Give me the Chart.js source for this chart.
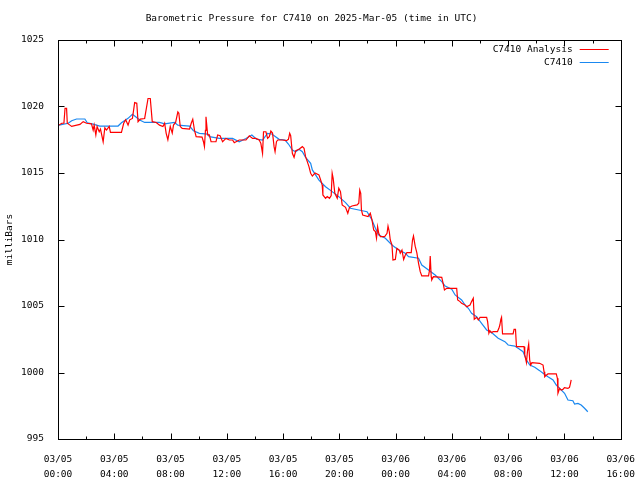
<!DOCTYPE html>
<html>
<head>
<meta charset="utf-8">
<title>Barometric Pressure for C7410</title>
<script src="https://cdn.jsdelivr.net/npm/chart.js@4.4.1/dist/chart.umd.min.js"></script>
<style>
  html, body { margin: 0; padding: 0; background: #ffffff; }
  canvas { display: block; }
</style>
</head>
<body>
<canvas id="pressure_chart" width="640" height="480"></canvas>
<script>
// hours since 03/05 00:00 UTC
const xTickHours = [0, 4, 8, 12, 16, 20, 24, 28, 32, 36, 40];
const xTickDates = ['03/05', '03/05', '03/05', '03/05', '03/05', '03/05', '03/06', '03/06', '03/06', '03/06', '03/06'];
const xTickTimes = ['00:00', '04:00', '08:00', '12:00', '16:00', '20:00', '00:00', '04:00', '08:00', '12:00', '16:00'];

const analysisHours = [0.07, 0.26, 0.42, 0.5, 0.61, 0.66, 0.85, 0.97, 1.56, 1.79, 2.03, 2.38, 2.5, 2.57, 2.69, 2.78, 2.93, 3.02, 3.21, 3.33,
  3.45, 3.64, 3.73, 4.51, 4.67, 4.81, 4.98, 5.1, 5.29, 5.45, 5.6, 5.69, 5.85, 6.16, 6.4, 6.56, 6.7, 6.98, 7.22, 7.46,
  7.58, 7.69, 7.81, 7.98, 8.12, 8.21, 8.36, 8.52, 8.59, 8.69, 8.83, 9.35, 9.47, 9.58, 9.7, 9.82, 10.24, 10.34, 10.41, 10.48,
  10.52, 10.64, 10.76, 10.88, 11.23, 11.35, 11.52, 11.7, 11.94, 12.18, 12.41, 12.53, 12.88, 13.36, 13.6, 13.83, 14.07, 14.3, 14.42, 14.54,
  14.61, 14.78, 14.9, 15.02, 15.13, 15.25, 15.36, 15.43, 15.53, 15.62, 15.95, 16.24, 16.38, 16.47, 16.54, 16.66, 16.78, 16.9, 17.13, 17.37,
  17.49, 17.6, 17.84, 17.96, 18.08, 18.27, 18.55, 18.67, 18.78, 18.83, 19.02, 19.14, 19.3, 19.42, 19.49, 19.56, 19.68, 19.85, 19.96, 20.08,
  20.2, 20.44, 20.6, 20.72, 20.9, 21.26, 21.38, 21.45, 21.52, 21.57, 21.66, 22.04, 22.2, 22.32, 22.44, 22.56, 22.64, 22.72, 22.8, 22.92,
  23.22, 23.39, 23.46, 23.55, 23.62, 23.74, 23.81, 23.98, 24.09, 24.26, 24.33, 24.45, 24.57, 24.69, 24.8, 25.11, 25.2, 25.27, 25.39, 25.51,
  25.63, 25.75, 25.86, 26.34, 26.41, 26.46, 26.53, 26.57, 26.69, 27.28, 27.4, 27.47, 27.63, 28.34, 28.41, 28.58, 28.69, 28.93, 29.05, 29.29,
  29.4, 29.52, 29.59, 29.76, 29.88, 30.0, 30.47, 30.54, 30.63, 30.7, 30.82, 30.94, 31.24, 31.34, 31.41, 31.48, 31.53, 31.6, 32.35, 32.42,
  32.52, 32.59, 33.13, 33.18, 33.3, 33.37, 33.46, 33.53, 33.6, 33.69, 34.24, 34.48, 34.55, 34.6, 34.71, 34.83, 35.42, 35.5, 35.54, 35.66,
  35.77, 35.89, 36.0, 36.25, 36.36, 36.43, 36.48];
const analysisValues = [1018.6, 1018.74, 1018.74, 1019.86, 1019.86, 1018.74, 1018.6, 1018.5, 1018.65, 1018.86, 1018.74, 1018.7, 1018.23, 1018.6, 1017.86, 1018.5, 1018.1, 1018.3, 1017.35, 1018.4,
  1018.23, 1018.5, 1018.06, 1018.06, 1018.74, 1019.0, 1018.6, 1019.0, 1019.1, 1020.29, 1020.24, 1018.86, 1019.05, 1019.1, 1020.6, 1020.6, 1018.86, 1018.8, 1018.6, 1018.5,
  1018.74, 1017.98, 1017.5, 1018.5, 1018.0, 1018.6, 1018.8, 1019.6, 1019.5, 1018.5, 1018.36, 1018.3, 1018.74, 1019.04, 1018.23, 1017.73, 1017.7, 1017.35, 1016.98, 1018.2,
  1019.23, 1017.86, 1017.86, 1017.35, 1017.35, 1017.86, 1017.8, 1017.35, 1017.6, 1017.48, 1017.48, 1017.28, 1017.48, 1017.48, 1017.8, 1017.6, 1017.6, 1017.48, 1017.23, 1016.48,
  1018.1, 1018.1, 1017.6, 1017.73, 1018.16, 1018.0, 1016.98, 1016.6, 1017.35, 1017.48, 1017.48, 1017.43, 1017.53, 1017.98, 1017.8, 1016.48, 1016.18, 1016.68, 1016.78, 1016.98,
  1016.86, 1016.23, 1015.48, 1014.98, 1014.77, 1015.0, 1014.86, 1014.47, 1014.1, 1013.35, 1013.1, 1013.23, 1013.1, 1013.3, 1014.98, 1014.6, 1013.47, 1013.1, 1013.85, 1013.6,
  1012.6, 1012.42, 1011.97, 1012.42, 1012.52, 1012.6, 1012.73, 1013.72, 1013.47, 1012.23, 1011.84, 1011.72, 1011.97, 1011.47, 1010.72, 1010.6, 1010.1, 1010.96, 1010.46, 1010.21,
  1010.21, 1010.46, 1011.0, 1010.58, 1009.96, 1009.59, 1008.46, 1008.5, 1009.34, 1009.2, 1008.97, 1009.2, 1008.5, 1008.84, 1009.01, 1009.01, 1009.96, 1010.26, 1009.5, 1009.0,
  1008.21, 1007.58, 1007.26, 1007.26, 1007.7, 1008.76, 1007.2, 1006.96, 1007.2, 1007.15, 1006.58, 1006.2, 1006.33, 1006.33, 1005.45, 1005.33, 1005.2, 1005.08, 1004.95, 1005.08,
  1005.33, 1005.58, 1004.0, 1004.15, 1003.95, 1004.15, 1004.15, 1003.82, 1002.95, 1003.15, 1003.0, 1003.08, 1003.08, 1003.32, 1003.57, 1004.0, 1004.15, 1002.9, 1002.9, 1003.25,
  1003.25, 1001.94, 1001.94, 1001.32, 1000.74, 1001.57, 1002.14, 1000.94, 1000.56, 1000.74, 1000.69, 1000.56, 1000.06, 999.68, 999.8, 999.89, 999.89, 999.56, 998.44, 998.81,
  998.68, 998.73, 998.86, 998.81, 998.88, 999.19, 999.44];

const stationHours = [0.07, 0.73, 0.97, 1.32, 1.91, 2.08, 2.5, 2.97, 4.27, 4.51, 4.98, 5.29, 5.52, 5.81, 6.16, 7.22, 7.58, 8.28, 8.52, 9.35,
  9.63, 10.05, 10.64, 10.76, 11.47, 12.41, 12.88, 13.36, 13.78, 14.11, 14.54, 14.89, 15.2, 15.72, 16.14, 16.38, 16.66, 16.9, 17.13, 17.37,
  17.6, 17.96, 18.08, 18.55, 19.02, 19.49, 19.96, 20.44, 20.79, 21.38, 21.97, 22.32, 22.56, 22.8, 23.27, 23.74, 24.21, 24.69, 24.92, 25.63,
  25.86, 26.34, 26.81, 27.28, 27.52, 27.99, 28.23, 28.69, 28.93, 29.17, 29.4, 29.76, 30.11, 30.47, 30.82, 31.29, 31.77, 32.0, 32.47, 32.71,
  33.06, 33.3, 33.54, 33.89, 34.24, 34.48, 34.83, 35.19, 35.42, 35.66, 36.01, 36.25, 36.6, 36.72, 36.96, 37.19, 37.43, 37.66];
const stationValues = [1018.6, 1018.74, 1018.93, 1019.06, 1019.06, 1018.78, 1018.68, 1018.53, 1018.53, 1018.78, 1019.11, 1019.41, 1019.23, 1018.98, 1018.8, 1018.8, 1018.7, 1018.8, 1018.6, 1018.53,
  1018.18, 1017.98, 1017.92, 1017.73, 1017.6, 1017.6, 1017.35, 1017.6, 1017.86, 1017.55, 1017.48, 1017.98, 1017.93, 1017.53, 1017.48, 1017.18, 1016.73, 1016.6, 1016.78, 1016.6,
  1016.18, 1015.73, 1015.23, 1014.47, 1013.97, 1013.6, 1013.22, 1012.77, 1012.35, 1012.22, 1012.09, 1011.47, 1010.84, 1010.34, 1010.09, 1009.59, 1009.21, 1008.96, 1008.71, 1008.59,
  1008.08, 1007.71, 1007.33, 1006.83, 1006.5, 1006.26, 1005.83, 1005.45, 1005.08, 1004.83, 1004.45, 1004.2, 1003.7, 1003.2, 1003.0, 1002.57, 1002.32, 1002.07, 1001.99, 1001.82,
  1001.56, 1000.94, 1000.56, 1000.39, 1000.14, 999.94, 999.68, 999.44, 999.06, 998.81, 998.44, 997.93, 997.88, 997.63, 997.68, 997.56, 997.31, 997.05];

const MONO = '"DejaVu Sans Mono", "Liberation Mono", monospace';
const FONT_SIZE = 9.5;

// border, inward tics (mirrored) and the key, gnuplot style
const gnuplotFrame = {
  id: 'gnuplotFrame',
  afterDatasetsDraw(chart) {
    const ctx = chart.ctx;
    const area = chart.chartArea;
    const xs = chart.scales.x;
    const ys = chart.scales.y;
    const l = Math.round(area.left) + 0.5, r = Math.round(area.right) + 0.5;
    const t = Math.round(area.top) + 0.5, b = Math.round(area.bottom) + 0.5;

    ctx.save();
    ctx.strokeStyle = '#000000';
    ctx.lineWidth = 1;
    ctx.beginPath();
    xs.ticks.forEach(tk => {
      const px = Math.round(xs.getPixelForValue(tk.value)) + 0.5;
      const len = xTickHours.includes(tk.value) ? 6 : 3;
      ctx.moveTo(px, b); ctx.lineTo(px, b - len);
      ctx.moveTo(px, t); ctx.lineTo(px, t + len);
    });
    ys.ticks.forEach(tk => {
      const py = Math.round(ys.getPixelForValue(tk.value)) + 0.5;
      ctx.moveTo(l, py); ctx.lineTo(l + 6, py);
      ctx.moveTo(r, py); ctx.lineTo(r - 6, py);
    });
    ctx.stroke();
    ctx.strokeRect(l, t, r - l, b - t);

    // key
    ctx.font = FONT_SIZE + 'px ' + MONO;
    ctx.textAlign = 'right';
    ctx.textBaseline = 'middle';
    chart.data.datasets.forEach((ds, i) => {
      const y = Math.round(area.top) + 10 + i * 13;
      ctx.fillStyle = '#000000';
      ctx.fillText(ds.label, area.right - 48, y);
      ctx.strokeStyle = ds.borderColor;
      ctx.beginPath();
      ctx.moveTo(area.right - 41, y - 0.5);
      ctx.lineTo(area.right - 12, y - 0.5);
      ctx.stroke();
    });
    ctx.restore();
  }
};

const pressureChart = new Chart(document.getElementById('pressure_chart'), {
  type: 'line',
  data: {
    datasets: [
      {
        label: 'C7410 Analysis',
        data: analysisHours.map((h, i) => ({ x: h, y: analysisValues[i] })),
        borderColor: '#ff0000',
        borderWidth: 1.2,
        pointRadius: 0,
        tension: 0
      },
      {
        label: 'C7410',
        data: stationHours.map((h, i) => ({ x: h, y: stationValues[i] })),
        borderColor: '#1a88f0',
        borderWidth: 1.2,
        pointRadius: 0,
        tension: 0
      }
    ]
  },
  options: {
    responsive: false,
    animation: false,
    layout: { padding: { left: 0, right: 17, top: 0, bottom: 0 } },
    plugins: {
      legend: { display: false },
      tooltip: { enabled: false },
      title: {
        display: true,
        text: 'Barometric Pressure for C7410 on 2025-Mar-05 (time in UTC)',
        color: '#000000',
        font: { family: MONO, size: FONT_SIZE, weight: 'normal', lineHeight: '12px' },
        padding: { top: 13, bottom: 15 }
      }
    },
    scales: {
      x: {
        type: 'linear',
        min: 0,
        max: 40,
        grid: { display: false },
        border: { display: false },
        afterFit: (scale) => { scale.height = 41; },
        ticks: {
          stepSize: 2,
          autoSkip: false,
          maxRotation: 0,
          padding: 5,
          color: '#000000',
          font: { family: MONO, size: FONT_SIZE, lineHeight: '15px' },
          callback: (value) => {
            const i = xTickHours.indexOf(value);
            return i >= 0 ? [xTickDates[i], xTickTimes[i]] : '';
          }
        }
      },
      y: {
        min: 995,
        max: 1025,
        grid: { display: false },
        border: { display: false },
        afterFit: (scale) => { scale.width = 58; },
        title: {
          display: true,
          text: 'milliBars',
          color: '#000000',
          font: { family: MONO, size: FONT_SIZE, lineHeight: '12px' },
          padding: { top: 4, bottom: 0 }
        },
        ticks: {
          stepSize: 5,
          padding: 6,
          color: '#000000',
          font: { family: MONO, size: FONT_SIZE },
          callback: (value) => String(value)
        }
      }
    }
  },
  plugins: [gnuplotFrame]
});
</script>
</body>
</html>
